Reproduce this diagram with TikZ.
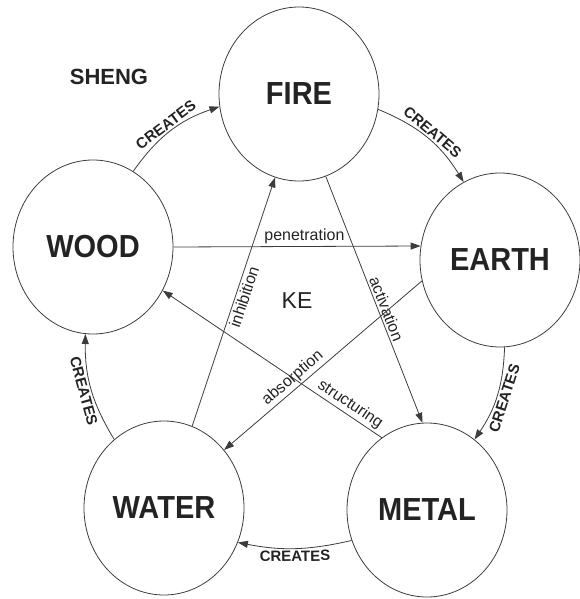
\documentclass[tikz,border=0pt]{standalone}
\usepackage{fontspec}
\setmainfont{Liberation Sans}
\usepackage{tikz}
\usetikzlibrary{
	positioning,
	arrows.meta,
	shapes.geometric
}
\definecolor{InkGray}{RGB}{35,35,35}
\definecolor{LineGray}{RGB}{60,60,60}
\newcommand{\elname}[1]{\scalebox{1}[1.1]{#1}}

\begin{document}
\begin{tikzpicture}[
	element/.style={
		draw=LineGray,
		line width=0.8pt,
		ellipse,
		inner sep=0pt,
		minimum width=160pt,
		minimum height=174pt,
		text=InkGray,
		font=\fontsize{29}{29}\selectfont\bfseries
	},
	flow/.style={
		-{Triangle[length=10pt,width=7pt]},
		line width=0.8pt,
		LineGray
	},
	createslabel/.style={
		midway,
		sloped,
		inner sep=2pt,
		text=InkGray,
		font=\fontsize{15}{15}\selectfont\bfseries
	},
	kelabel/.style={
		sloped,
		inner sep=2pt,
		text=InkGray,
		font=\fontsize{16}{16}\selectfont
	}
	]
	
	\useasboundingbox (-299pt,94pt) rectangle (280pt,-505pt);
	
	\node[element] (F) {\elname{FIRE}};
	
	\node[
	element,
	on grid,
	below left=153pt and 206pt of F
	] (W) {\elname{WOOD}};
	
	\node[
	element,
	on grid,
	below right=166pt and 201pt of F
	] (E) {\elname{EARTH}};
	
	\node[
	element,
	on grid,
	below right=416pt and 128pt of F
	] (M) {\elname{METAL}};
	
	\node[
	element,
	on grid,
	below left=414pt and 135pt of F
	] (A) {\elname{WATER}};
	
	\node[
	text=InkGray,
	font=\fontsize{22}{22}\selectfont\bfseries
	] (S) at (-190pt,17pt) {SHENG};
	
	\node[
	text=InkGray,
	font=\fontsize{23}{23}\selectfont
	] (K) at (-2pt,-207pt) {KE};
	
	% sheng cycle
	\draw[flow] (W.62) to[bend left=18] node[createslabel, above] {CREATES} (F.189);
	\draw[flow] (F.-11) to[bend left=18] node[createslabel, above] {CREATES} (E.115);
	\draw[flow] (E.-87) to[bend left=16] node[createslabel, below] {CREATES} (M.56);
	\draw[flow] (M.202) to[bend left=12] node[createslabel, below] {CREATES} (A.-25);
	\draw[flow] (A.126) to[bend left=16] node[createslabel, below] {CREATES} (W.-95);
	
	% ke cycle
	\draw[flow] (W.0) -- node[kelabel, pos=0.53, above] {penetration} (E.170);
	\draw[flow] (F.-72) -- node[kelabel, pos=0.55, above] {activation} (M.93);
	\draw[flow] (A.71) -- node[kelabel, pos=0.53, below] {inhibition} (F.-106);
	\draw[flow] (M.122) -- node[kelabel, pos=0.17, above] {structuring} (W.-32);
	\draw[flow] (E.195) -- node[kelabel, pos=0.62, above] {absorption} (A.44);
	
\end{tikzpicture}
\end{document}
